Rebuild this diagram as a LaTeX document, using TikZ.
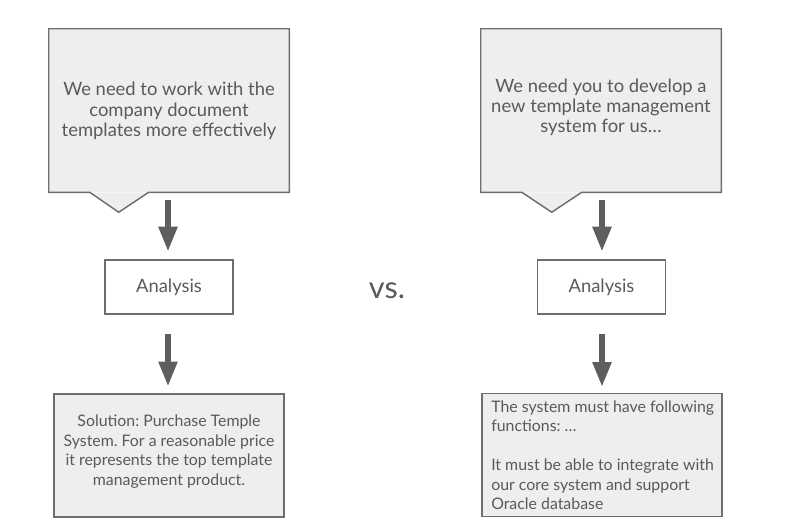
\documentclass[tikz,border=0pt]{standalone}
\usepackage{fontspec}
\setmainfont{Lato}
\usetikzlibrary{arrows.meta,calc}
\definecolor{boxfill}{HTML}{EEEEEE}
\definecolor{boxline}{HTML}{6E6E6E}
\definecolor{txt}{HTML}{5A5A5A}
\definecolor{arr}{HTML}{5E5E5E}
\frenchspacing
\begin{document}
\begin{tikzpicture}[x=0.75pt,y=-0.75pt,
  calloutbox/.style={rectangle,fill=boxfill,draw=none,minimum width=240*0.75pt,minimum height=163*0.75pt,inner sep=0pt},
  callouttext/.style={text=txt,font=\fontsize{13.8}{15.2}\selectfont,align=center,inner sep=0pt},
  outline/.style={draw=boxline,line width=1.1pt,line join=miter},
  anabox/.style={rectangle,draw=boxline,line width=0.9pt,fill=white,minimum width=128*0.75pt,minimum height=54*0.75pt,text=txt,font=\fontsize{13.8}{15}\selectfont},
  resbox/.style={rectangle,draw=boxline,line width=1.1pt,fill=boxfill,minimum height=123*0.75pt,inner sep=0pt},
  restext/.style={text=txt,font=\fontsize{11.9}{14.6}\selectfont,inner sep=0pt},
  bigarrow/.style={draw=arr,line width=4pt,-{Triangle[width=13.5pt,length=18.5pt]}}
]
\useasboundingbox (0,0) rectangle (794,529);
% left callout
\node[calloutbox] (c1) at (169,110.5) {};
\fill[boxfill] ($(c1.south west)+(41,0)$) -- ($(c1.south west)+(70,20)$) -- ($(c1.south west)+(100,0)$) -- cycle;
\draw[outline] ($(c1.south west)+(41,0)$) -- (c1.south west) -- (c1.north west) -- (c1.north east) -- (c1.south east) -- ($(c1.south west)+(100,0)$) -- ($(c1.south west)+(70,20)$) -- cycle;
\node[callouttext] (t1) at (169,111) {We need to work with the\\company document\\templates more effectively};
% right callout
\node[calloutbox] (c2) at (601,110.5) {};
\fill[boxfill] ($(c2.south west)+(41,0)$) -- ($(c2.south west)+(71,20)$) -- ($(c2.south west)+(101,0)$) -- cycle;
\draw[outline] ($(c2.south west)+(41,0)$) -- (c2.south west) -- (c2.north west) -- (c2.north east) -- (c2.south east) -- ($(c2.south west)+(101,0)$) -- ($(c2.south west)+(71,20)$) -- cycle;
\node[callouttext] (t2) at (601,107.5) {We need you to develop a\\new template management\\system for us\dots};
% analysis boxes
\node[anabox] (a1) at (169,287) {Analysis};
\node[anabox] (a2) at (601.5,287) {Analysis};
% result boxes
\node[resbox,minimum width=230*0.75pt] (r1) at (169,455.5) {};
\node[restext,align=center] (r1t) at (169,451.5) {Solution: Purchase Temple\\System. For a reasonable price\\it represents the top template\\management product.};
\node[resbox,minimum width=240*0.75pt] (r2) at (602,455) {};
\node[restext,align=left,anchor=north west] (r2t) at (491,400.5) {The system must have following\\functions: \dots\\[14.6pt]It must be able to integrate with\\our core system and support\\Oracle database};
% vs
\node[text=txt,font=\fontsize{23}{26}\selectfont] (vs) at (387,291) {vs.};
% arrows
\coordinate (s1) at ($(c1.south)+(-1,8)$);
\coordinate (e1) at ($(a1.north)+(-1,-8)$);
\coordinate (s2) at ($(a1.south)+(-1,19)$);
\coordinate (e2) at ($(r1.north)+(-1,-7)$);
\draw[bigarrow] (s1) -- (e1);
\draw[bigarrow] (s2) -- (e2);
\coordinate (s3) at ($(c2.south)+(1,8)$);
\coordinate (e3) at ($(a2.north)+(0.5,-8)$);
\coordinate (s4) at ($(a2.south)+(0.5,19)$);
\coordinate (e4) at ($(r2.north)+(0,-6)$);
\draw[bigarrow] (s3) -- (e3);
\draw[bigarrow] (s4) -- (e4);
\end{tikzpicture}
\end{document}
